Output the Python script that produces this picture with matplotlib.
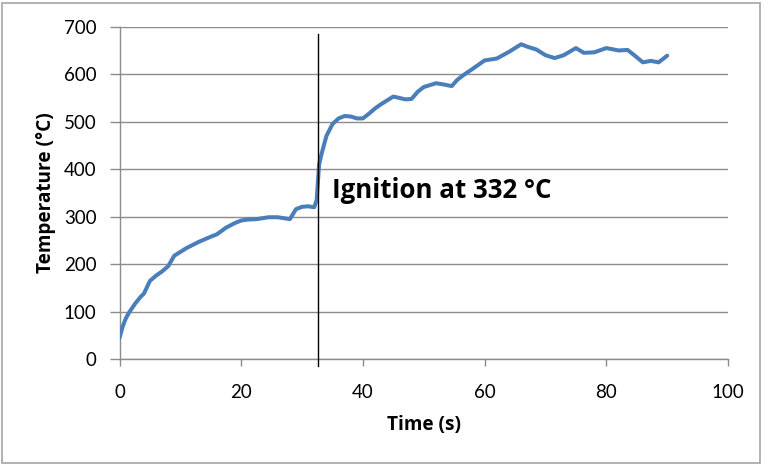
import matplotlib.pyplot as plt
from matplotlib.patches import Rectangle

# Данные
time = [0, 0.5, 1, 1.5, 2.5, 3.5, 4, 5, 6, 7, 8, 9, 10, 11, 13, 15, 16, 17.5,
        19, 20, 21, 22.5, 24.5, 26, 27, 28, 29, 30, 31, 32, 32.4, 32.8, 33.2,
        34, 35, 36, 37, 38, 39, 40, 41, 42, 43, 44, 45, 46, 47, 48, 49, 50,
        52, 53, 54.6, 55.5, 56.5, 58, 60, 62, 64, 66, 67, 68.5, 70, 71.5, 73,
        75, 76.3, 78, 80, 82, 83.5, 84.5, 86, 87.3, 88.6, 90]
temperature = [45, 68, 85, 97, 116, 132, 138, 165, 176, 185, 196, 218, 226, 234,
               247, 258, 263, 277, 287, 292, 294, 295, 299, 299, 297, 295, 316,
               321, 322, 320, 335, 410, 432, 470, 495, 507, 512, 511, 507, 507,
               517, 528, 537, 545, 553, 550, 547, 548, 563, 573, 581, 579, 575,
               588, 598, 611, 629, 633, 647, 663, 658, 652, 640, 634, 640, 655,
               645, 646, 655, 650, 651, 641, 625, 628, 625, 639]

ignition_time = 32.6
ignition_line = [-15, 685]
ignition_label = 'Ignition at 332 °C'
label_pos = (35, 356)

x_ticks = [0, 20, 40, 60, 80, 100]
y_ticks = [0, 100, 200, 300, 400, 500, 600, 700]

plt.rcParams['font.family'] = ['Lato', 'DejaVu Sans']
bold_font = ['Open Sans', 'DejaVu Sans']

fig = plt.figure(figsize=(7.69, 4.65), dpi=100)
ax = fig.add_axes([0.1554, 0.2273, 0.7913, 0.7153])

ax.plot(time, temperature, color='#4A7EBB', lw=2.9, solid_capstyle='round',
        solid_joinstyle='round', zorder=3)
ax.plot([ignition_time, ignition_time], ignition_line, color='black', lw=1.0,
        clip_on=False, zorder=4)
ax.text(label_pos[0], label_pos[1], ignition_label, fontsize=18.6, fontweight='bold',
        family=bold_font, va='center', ha='left')

ax.set_xlim(0, 100)
ax.set_ylim(0, 700)
ax.set_xticks(x_ticks)
ax.set_yticks(y_ticks)
ax.yaxis.grid(True, color='#8C8C8C', lw=1.0)
ax.set_axisbelow(True)

for s in ['top', 'right']:
    ax.spines[s].set_visible(False)
for s in ['left', 'bottom']:
    ax.spines[s].set_color('#8C8C8C')
    ax.spines[s].set_linewidth(1.0)
ax.tick_params(axis='both', colors='#8C8C8C', labelcolor='black',
               width=1.0, labelsize=13.5)
ax.tick_params(axis='y', length=7, pad=9.5)
ax.tick_params(axis='x', length=5.3, pad=12.5)

ax.set_xlabel('Time (s)', fontsize=13.7, fontweight='bold', family=bold_font,
              labelpad=10)
ax.set_ylabel('Temperature (°C)', fontsize=13.7, fontweight='bold',
              family=bold_font, labelpad=6)

# рамка вокруг рисунка
fig.patches.append(Rectangle((2 / 769, 2 / 465), 758 / 769, 460 / 465,
                             transform=fig.transFigure, fill=False,
                             edgecolor='#A6A6A6', lw=1.2))

fig.savefig('out.png', dpi=100)
